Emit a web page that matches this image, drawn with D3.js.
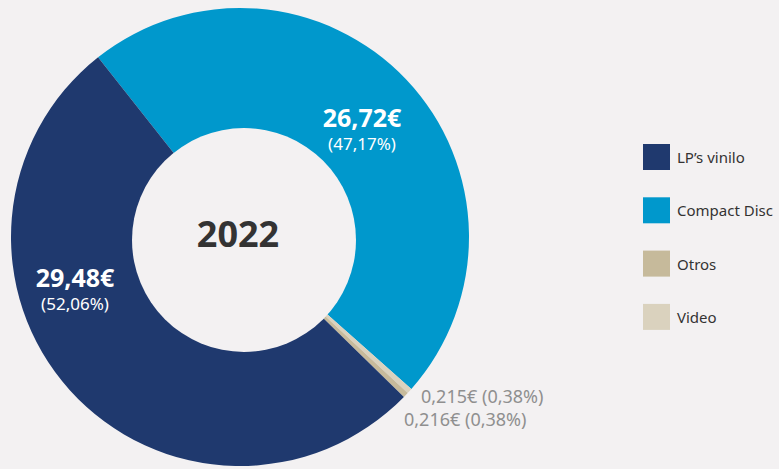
<!DOCTYPE html>
<html>
<head>
<meta charset="utf-8">
<script src="https://cdn.jsdelivr.net/npm/d3@7"></script>
<style>
  body { margin: 0; background: #f3f1f2; }
  svg { display: block; font-family: "Noto Sans", sans-serif; }
</style>
</head>
<body>
<div id="canvas"></div>
<script>
// data
const categories = ["LP’s vinilo", "Compact Disc", "Otros", "Video"];
const values = [29.48, 26.72, 0.216, 0.215];
const valueLabels = ["29,48€", "26,72€", "0,216€", "0,215€"];
const pctLabels = ["(52,06%)", "(47,17%)", "(0,38%)", "(0,38%)"];
const colors = ["#1f396e", "#0098cc", "#c6ba9b", "#dad2be"];
// clockwise drawing order, starting at the top-left boundary
const drawOrder = ["Compact Disc", "Video", "Otros", "LP’s vinilo"];
const centerLabel = "2022";

const width = 779;
const height = 469;
const cx = 240, cy = 237;
const outerR = 229, innerR = 100;
// the hole in the reference sits slightly off-centre
const hole = { dx: 4, dy: 3, r: 112 };

const svg = d3.select("#canvas").append("svg")
  .attr("width", width)
  .attr("height", height);

const rows = drawOrder.map((name) => {
  const i = categories.indexOf(name);
  return { name, value: values[i], val: valueLabels[i], pct: pctLabels[i], color: colors[i] };
});

const start = -38.3 * Math.PI / 180;
const pie = d3.pie().sort(null).value((d) => d.value)
  .startAngle(start).endAngle(start + 2 * Math.PI);
const arc = d3.arc().innerRadius(innerR).outerRadius(outerR);

const g = svg.append("g").attr("transform", `translate(${cx}, ${cy})`);

g.selectAll("path")
  .data(pie(rows))
  .enter()
  .append("path")
  .attr("d", arc)
  .attr("fill", (d) => d.data.color);

g.append("circle")
  .attr("cx", hole.dx)
  .attr("cy", hole.dy)
  .attr("r", hole.r)
  .attr("fill", "#f3f1f2");

g.append("text")
  .attr("text-anchor", "middle")
  .attr("x", -2)
  .attr("y", 10)
  .attr("fill", "#333333")
  .style("font-size", "36px")
  .style("font-weight", "bold")
  .text(centerLabel);

// big labels (white)
const bigPos = { "Compact Disc": [122, -110], "LP’s vinilo": [-165, 50] };
rows.filter((r) => bigPos[r.name]).forEach((r) => {
  const [x, y] = bigPos[r.name];
  g.append("text")
    .attr("x", x).attr("y", y)
    .attr("text-anchor", "middle")
    .attr("fill", "#ffffff")
    .style("font-size", "25px")
    .style("font-weight", "bold")
    .text(r.val);
  g.append("text")
    .attr("x", x).attr("y", y + 23)
    .attr("text-anchor", "middle")
    .attr("fill", "#ffffff")
    .style("font-size", "17px")
    .text(r.pct);
});

// small slice labels (outside)
const smallPos = { "Video": [181, 166], "Otros": [164, 189] };
rows.filter((r) => smallPos[r.name]).forEach((r) => {
  const [x, y] = smallPos[r.name];
  g.append("text")
    .attr("x", x).attr("y", y)
    .attr("fill", "#8f8f8f")
    .style("font-size", "18px")
    .text(`${r.val} ${r.pct}`);
});

// legend
const legend = svg.append("g").attr("transform", "translate(643, 144)");
const items = legend.selectAll("g")
  .data(categories)
  .enter()
  .append("g")
  .attr("transform", (d, i) => `translate(0, ${i * 53.3})`);

items.append("rect")
  .attr("width", 27)
  .attr("height", 26)
  .attr("fill", (d, i) => colors[i]);

items.append("text")
  .attr("x", 34)
  .attr("y", 19)
  .attr("fill", "#333333")
  .style("font-size", "15px")
  .text((d) => d);
</script>
</body>
</html>
